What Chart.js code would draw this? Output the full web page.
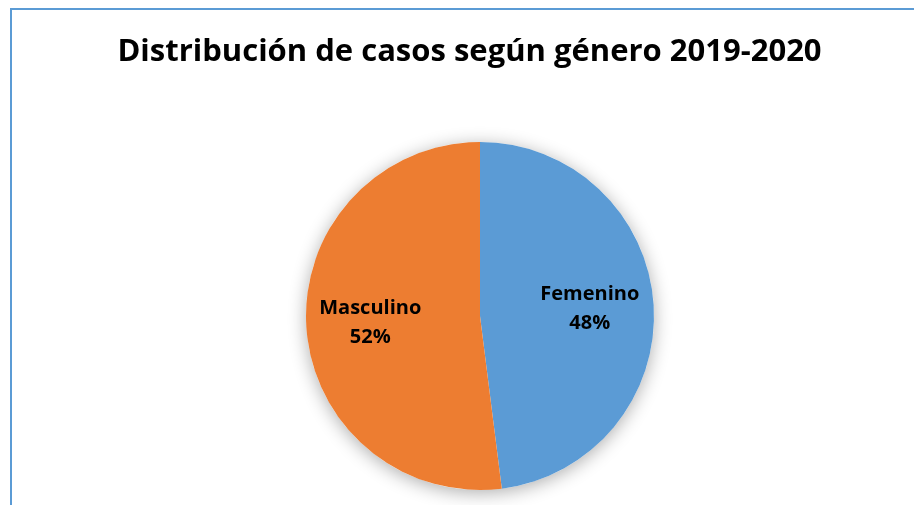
<!DOCTYPE html>
<html>
<head>
<meta charset="utf-8">
<script src="https://cdn.jsdelivr.net/npm/chart.js@4"></script>
<style>
  html, body { margin: 0; padding: 0; background: #ffffff; width: 914px; height: 505px; overflow: hidden; }
  #frame { position: absolute; left: 10px; top: 8px; width: 1000px; height: 600px; border: 2px solid #5b9bd5; box-sizing: border-box; }
  #title { position: absolute; left: 0; top: 30px; width: 939px; text-align: center; font-family: "Open Sans", sans-serif; font-weight: bold; font-size: 31px; line-height: 38px; color: #000; margin: 0; white-space: nowrap; }
  #c { position: absolute; left: 0; top: 0; }
</style>
</head>
<body>
<div id="frame"></div>
<canvas id="c" width="914" height="505"></canvas>
<h1 id="title">Distribución de casos según género 2019-2020</h1>
<script>
const categories = ["Femenino", "Masculino"];
const percentages = [48, 52];
const colors = ["#5b9bd5", "#ed7d31"];

const shadowPlugin = {
  id: 'pieShadow',
  beforeDatasetsDraw(chart) {
    const meta = chart.getDatasetMeta(0);
    if (!meta.data.length) return;
    const arc = meta.data[0];
    const ctx = chart.ctx;
    ctx.save();
    ctx.shadowColor = 'rgba(0,0,0,0.32)';
    ctx.shadowBlur = 18;
    ctx.shadowOffsetX = 0;
    ctx.shadowOffsetY = 3;
    ctx.fillStyle = '#ffffff';
    ctx.beginPath();
    ctx.arc(arc.x, arc.y, arc.outerRadius, 0, Math.PI * 2);
    ctx.fill();
    ctx.restore();
  }
};

const labelPlugin = {
  id: 'sliceLabels',
  afterDatasetsDraw(chart) {
    const ctx = chart.ctx;
    const meta = chart.getDatasetMeta(0);
    const values = chart.data.datasets[0].data;
    const total = values.reduce((a, b) => a + b, 0);
    ctx.save();
    ctx.font = 'bold 20px "Open Sans", sans-serif';
    ctx.fillStyle = '#000000';
    ctx.textAlign = 'center';
    ctx.textBaseline = 'middle';
    meta.data.forEach((arc, i) => {
      const mid = (arc.startAngle + arc.endAngle) / 2;
      const d = arc.outerRadius * 0.632;
      const x = arc.x + Math.cos(mid) * d;
      const y = arc.y + Math.sin(mid) * d;
      const pct = Math.round(values[i] / total * 100) + '%';
      ctx.fillText(chart.data.labels[i], x, y - 14.5);
      ctx.fillText(pct, x, y + 14.5);
    });
    ctx.restore();
  }
};

new Chart(document.getElementById('c'), {
  type: 'pie',
  data: {
    labels: categories,
    datasets: [{
      data: percentages,
      backgroundColor: colors,
      borderWidth: 0
    }]
  },
  options: {
    responsive: false,
    animation: false,
    layout: { padding: { top: 142, bottom: 15, left: 46, right: 0 } },
    plugins: {
      legend: { display: false },
      tooltip: { enabled: false },
      title: { display: false }
    }
  },
  plugins: [shadowPlugin, labelPlugin]
});
</script>
</body>
</html>
